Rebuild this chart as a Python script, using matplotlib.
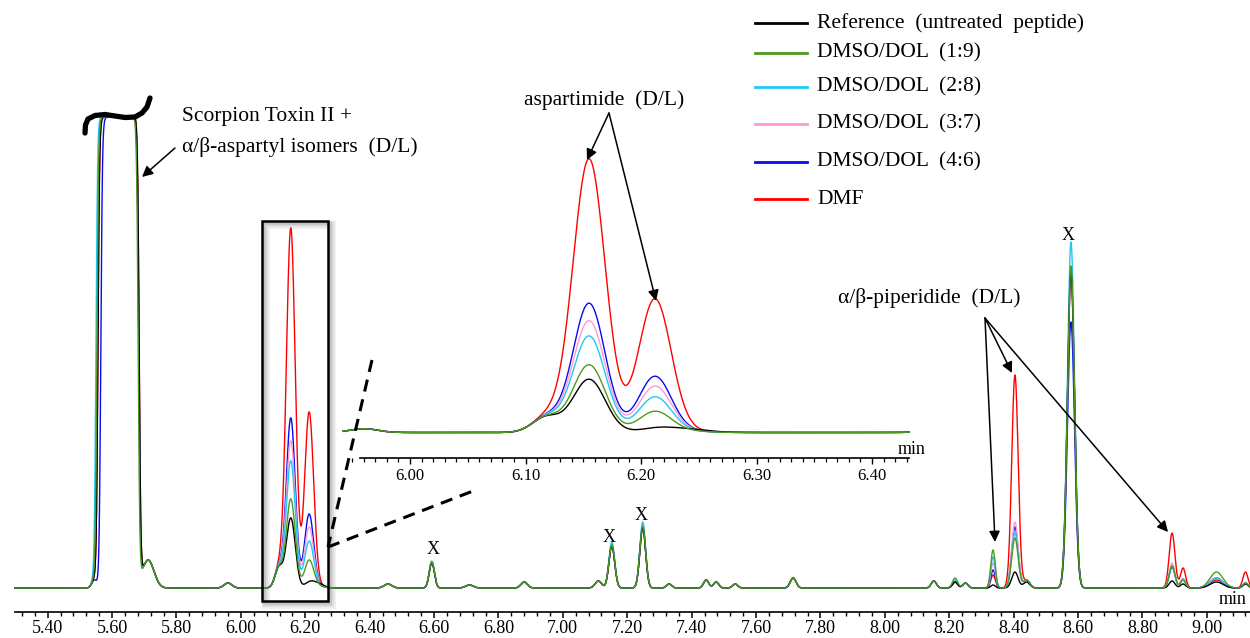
import numpy as np
import matplotlib
matplotlib.use("Agg")
import matplotlib.pyplot as plt
from matplotlib.patches import Rectangle, FancyArrowPatch
from matplotlib.lines import Line2D
from matplotlib.ticker import MultipleLocator, FormatStrFormatter

# ---------------- data ----------------
series_names = ["Reference  (untreated  peptide)", "DMSO/DOL  (1:9)", "DMSO/DOL  (2:8)",
                "DMSO/DOL  (3:7)", "DMSO/DOL  (4:6)", "DMF"]
series_colors = ["#000000", "#4e9a1e", "#22c8f2", "#ff9bd0", "#0a0aef", "#ff0000"]

# main (overloaded) peak: start / end of plateau per series, and detector ceiling
main_start = [5.556, 5.553, 5.550, 5.553, 5.565, 5.556]
main_end = [5.684, 5.681, 5.683, 5.683, 5.683, 5.684]
detector_max = 471.0

# smaller peaks: retention time (min) and width (sigma, min)
peak_rt = [5.545, 5.712, 5.960, 6.118, 6.155, 6.212, 6.235, 6.457, 6.593, 6.710,
           6.880, 7.110, 7.152, 7.248, 7.330, 7.445, 7.476, 7.535, 7.715, 8.152,
           8.218, 8.250, 8.336, 8.404, 8.440, 8.578, 8.892, 8.926, 9.030, 9.120]
peak_sigma = [0.008, 0.018, 0.012, 0.012, 0.014, 0.014, 0.020, 0.012, 0.008, 0.012,
              0.010, 0.010, 0.009, 0.009, 0.008, 0.008, 0.008, 0.008, 0.009, 0.008,
              0.008, 0.008, 0.007, 0.010, 0.010, 0.011, 0.009, 0.008, 0.020, 0.008]
# peak heights per series (same order as peak_rt)
h_reference = [8, 28, 5, 20, 70, 4, 5, 4, 25, 3, 6, 7, 42, 60, 4, 8, 6, 4, 10, 7,
               6, 5, 3, 16, 6, 315, 7, 4, 6, 4]
h_dmso_19 = [8, 28, 5, 20, 89, 27, 2, 4, 26, 3, 6, 7, 43, 62, 4, 8, 6, 4, 10, 7,
             10, 5, 38, 50, 8, 322, 22, 8, 16, 5]
h_dmso_28 = [8, 28, 5, 20, 127, 46, 2, 4, 27, 3, 6, 7, 46, 66, 4, 8, 6, 4, 10, 7,
             8, 5, 31, 55, 8, 346, 22, 8, 10, 5]
h_dmso_37 = [8, 28, 5, 20, 147, 60, 2, 4, 26, 3, 6, 7, 44, 63, 4, 8, 6, 4, 10, 7,
             7, 5, 25, 66, 8, 310, 25, 9, 10, 5]
h_dmso_46 = [8, 28, 5, 20, 170, 73, 2, 4, 26, 3, 6, 7, 43, 62, 4, 8, 6, 4, 10, 7,
             6, 5, 18, 61, 8, 266, 21, 9, 10, 5]
h_dmf = [8, 28, 5, 20, 360, 175, 2, 4, 26, 3, 6, 7, 42, 60, 4, 8, 6, 4, 10, 7,
         6, 5, 13, 213, 8, 318, 55, 20, 8, 16]
heights = [h_reference, h_dmso_19, h_dmso_28, h_dmso_37, h_dmso_46, h_dmf]

x_ticks_main = ["5.40", "5.60", "5.80", "6.00", "6.20", "6.40", "6.60", "6.80", "7.00",
                "7.20", "7.40", "7.60", "7.80", "8.00", "8.20", "8.40", "8.60", "8.80", "9.00"]

# ---------------- figure ----------------
W, H = 1250, 638
plt.rcParams['font.family'] = ['Liberation Serif', 'DejaVu Serif']
fig = plt.figure(figsize=(W / 100, H / 100), dpi=100)


def P(x, y):
    return (x / W, 1 - y / H)


t = np.linspace(5.297, 9.134, 8000)


def trace(i):
    edge = 0.0025
    y = detector_max / (1 + np.exp(-(t - main_start[i]) / edge)) / (1 + np.exp(-(main_end[i] - t) / edge))
    for rt, sg, h in zip(peak_rt, peak_sigma, heights[i]):
        y = y + h * np.exp(-0.5 * ((t - rt) / sg) ** 2)
    return np.minimum(y, detector_max)


traces = [trace(i) for i in range(len(series_names))]
draw_order = [5, 4, 3, 2, 0, 1]

# main axes
x0, x1 = 14.5, 1250
ybot = 612
baseline_px = 588
ax = fig.add_axes([x0 / W, 1 - ybot / H, (x1 - x0) / W, ybot / H])
ax.set_facecolor("none")
for i in draw_order:
    ax.plot(t, traces[i], color=series_colors[i], lw=1.0, zorder=3)
ax.set_xlim(5.297, 9.134)
ax.set_ylim(-(ybot - baseline_px), baseline_px)
for s in ["top", "left", "right"]:
    ax.spines[s].set_visible(False)
ax.spines["bottom"].set_linewidth(1.2)
ax.set_yticks([])
ax.set_xticks([float(v) for v in x_ticks_main])
ax.set_xticklabels(x_ticks_main)
ax.xaxis.set_minor_locator(MultipleLocator(0.04))
ax.tick_params(axis="x", which="major", length=4, width=1.1, labelsize=13, pad=2)
ax.tick_params(axis="x", which="minor", length=3, width=1.0)

# inset axes
ix0, ix1 = 342, 910
iy_axis, iy_top = 458, 140
ax_in = fig.add_axes([ix0 / W, 1 - iy_axis / H, (ix1 - ix0) / W, (iy_axis - iy_top) / H])
ax_in.set_facecolor("none")
for i in draw_order:
    ax_in.plot(t, traces[i], color=series_colors[i], lw=1.0)
ax_in.set_xlim(5.9411, 6.4329)
scale = 0.76
ylo = -(iy_axis - 432.5) / scale
ax_in.set_ylim(ylo, ylo + (iy_axis - iy_top) / scale)
for s in ["top", "left", "right"]:
    ax_in.spines[s].set_visible(False)
ax_in.spines["bottom"].set_bounds(5.957, 6.432)
ax_in.spines["bottom"].set_linewidth(1.2)
ax_in.set_yticks([])
ax_in.set_xticks([6.0, 6.1, 6.2, 6.3, 6.4])
ax_in.xaxis.set_major_formatter(FormatStrFormatter("%.2f"))
ax_in.xaxis.set_minor_locator(MultipleLocator(0.01))
ax_in.tick_params(axis="x", which="major", length=4, width=1.0, labelsize=12, pad=3)
ax_in.tick_params(axis="x", which="minor", length=3, width=0.9)

# "min" labels
fig.text(*P(1247, 599), "min", fontsize=13, ha="right", va="center")
fig.text(*P(898, 450), "min", fontsize=13, ha="left", va="center")

# box around the aspartimide peaks with a soft shadow
for off, a, lw in [(4, 0.12, 6), (3, 0.18, 4), (2, 0.25, 2)]:
    fig.patches.append(Rectangle(P(262 + off, 601 + off), 66 / W, 380 / H, transform=fig.transFigure,
                                 fill=False, edgecolor="#808080", alpha=a, lw=lw, zorder=4))
fig.patches.append(Rectangle(P(262, 601), 66 / W, 380 / H, transform=fig.transFigure,
                             fill=False, edgecolor="black", lw=1.8, zorder=5))

# dashed zoom lines
for (xa, ya), (xb, yb) in [((372, 360), (328, 547)), ((328, 547), (473, 491))]:
    fig.add_artist(Line2D([xa / W, xb / W], [1 - ya / H, 1 - yb / H], transform=fig.transFigure,
                          color="black", lw=2.2, linestyle=(0, (4, 2.6)), zorder=6))

# curly break mark on top of the overloaded peak
bx = np.array([85, 85.5, 88, 95, 105, 115, 125, 135, 142, 147, 150])
by = np.array([133, 125, 119, 115.5, 114.5, 116, 117.5, 117, 113, 107, 98])
fig.add_artist(Line2D(bx / W, 1 - by / H, transform=fig.transFigure, color="black", lw=3.8,
                      solid_capstyle="round", solid_joinstyle="round", zorder=7))

# legend (manual)
leg_y = [23, 53, 87, 124, 162, 199]
for name, col, yy in zip(series_names, series_colors, leg_y):
    fig.add_artist(Line2D([755 / W, 807 / W], [1 - yy / H] * 2, transform=fig.transFigure,
                          color=col, lw=2.0))
    fig.text(*P(817, yy), name, fontsize=15.5, ha="left", va="center")


def arrow(x_from, y_from, x_to, y_to):
    fig.add_artist(FancyArrowPatch(P(x_from, y_from), P(x_to, y_to), transform=fig.transFigure,
                                   arrowstyle="-|>", mutation_scale=16, lw=1.1, color="black",
                                   shrinkA=0, shrinkB=0, zorder=8))


# annotations
fig.text(*P(182, 117), "Scorpion Toxin II +", fontsize=15.5, ha="left", va="center")
fig.text(*P(182, 147), "α/β-aspartyl isomers  (D/L)", fontsize=15.5, ha="left", va="center")
arrow(175, 148, 142, 177)

fig.text(*P(604, 100), "aspartimide  (D/L)", fontsize=15.5, ha="center", va="center")
arrow(609, 113, 587, 160)
arrow(609, 113, 656, 301)

fig.text(*P(838, 298), "α/β-piperidide  (D/L)", fontsize=15.5, ha="left", va="center")
arrow(985, 318, 995, 542)
arrow(985, 318, 1012, 373)
arrow(985, 318, 1168, 532)

for xx, yy in [(433, 550), (609, 538), (641, 515), (1068, 236)]:
    fig.text(*P(xx, yy), "X", fontsize=13, ha="center", va="center")

fig.savefig("out.png", dpi=100, facecolor="white")
